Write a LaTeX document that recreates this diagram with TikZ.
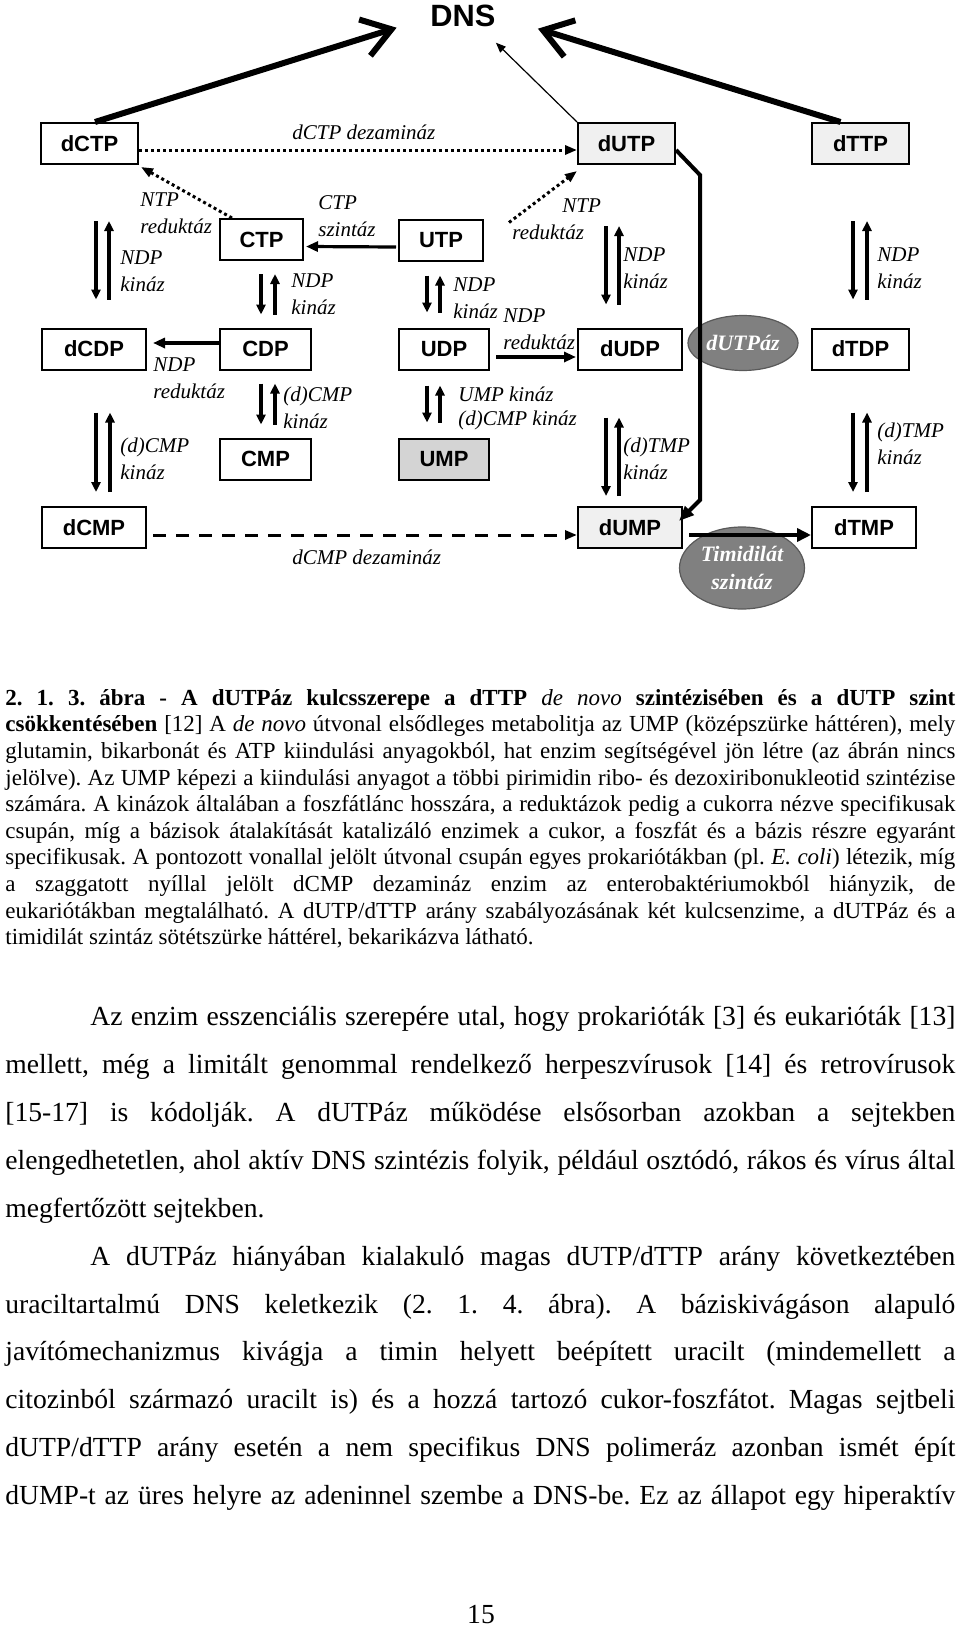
\documentclass[tikz,border=0pt]{standalone}
\usepackage{fontspec}
\setmainfont{Liberation Serif}
\newfontfamily\sansfam{Liberation Sans}
\usetikzlibrary{arrows.meta,shapes.geometric}
\frenchspacing

\tikzset{
  nbox/.style={draw, line width=1pt, minimum height=20.5pt, inner sep=0pt,
    font=\sansfam\bfseries\fontsize{11}{13}\selectfont},
  lbl/.style={anchor=north west, inner sep=0pt, align=left,
    font=\itshape\fontsize{10.5}{13.5}\selectfont},
  enz/.style={ellipse, draw=black!65, line width=0.6pt, fill=black!50, text=white,
    inner sep=0pt, align=center, font=\bfseries\itshape\fontsize{11}{14}\selectfont},
  kin/.style={line width=1.6pt, -{Triangle[length=5pt,width=4.5pt]}},
  flow/.style={line width=1.6pt, -{Triangle[length=6pt,width=5pt]}},
  dots/.style={line width=1.5pt, dash pattern=on 1.5pt off 1.5pt, -{Triangle[length=6pt,width=4.5pt]}},
  dsh/.style={line width=1.5pt, dash pattern=on 6.5pt off 5pt, -{Triangle[length=6pt,width=4.5pt]}},
  big/.style={line width=3pt, -{Straight Barb[length=14pt,width=19pt]}},
  txt/.style={anchor=north west, inner sep=0pt, align=justify, text width=475pt},
}

\begin{document}
\begin{tikzpicture}[x=0.5pt, y=-0.5pt]
    \useasboundingbox (0,0) rectangle (960,1627);

    \node[inner sep=0pt, anchor=base, font=\sansfam\bfseries\fontsize{15.4}{18}\selectfont] (DNS) at (463,27) {DNS};

    \node[nbox, minimum width=48.5pt] (dCTP) at (89.5,143.5) {dCTP};
    \node[nbox, minimum width=48.5pt, fill=black!6] (dUTP) at (626.5,143.5) {dUTP};
    \node[nbox, minimum width=48.5pt, fill=black!6] (dTTP) at (860.5,143.5) {dTTP};
    \node[nbox, minimum width=41.5pt] (CTP) at (261.5,239.5) {CTP};
    \node[nbox, minimum width=42pt] (UTP) at (441,240) {UTP};
    \node[nbox, minimum width=52pt] (dCDP) at (94,349) {dCDP};
    \node[nbox, minimum width=45.5pt] (CDP) at (265.5,349) {CDP};
    \node[nbox, minimum width=45pt] (UDP) at (444,349) {UDP};
    \node[nbox, minimum width=52pt] (dUDP) at (630,349) {dUDP};
    \node[nbox, minimum width=48.5pt] (dTDP) at (860.5,349) {dTDP};
    \node[nbox, minimum width=45.5pt] (CMP) at (265.5,459) {CMP};
    \node[nbox, minimum width=45pt, fill=black!17] (UMP) at (444,459) {UMP};
    \node[nbox, minimum width=52pt] (dCMP) at (94,527.5) {dCMP};
    \node[nbox, minimum width=52pt, fill=black!6] (dUMP) at (630,527.5) {dUMP};
    \node[nbox, minimum width=52pt] (dTMP) at (864,527.5) {dTMP};

    \node[enz, minimum width=55pt, minimum height=27.5pt] (dUTPaz) at (743,343) {dUTPáz};
    \node[enz, minimum width=62.5pt, minimum height=41pt] (TS) at (742,568) {Timidilát\\szintáz};

    \draw[big] ([xshift=2.75pt]dCTP.north) -- ([xshift=-16.75pt]DNS.south west);
    \draw[big] ([xshift=-10pt]dTTP.north) -- ([xshift=21pt,yshift=-0.5pt]DNS.south east);
    \draw[line width=0.6pt, -{Triangle[length=5pt,width=4pt]}] (dUTP.north west) -- ([yshift=-7.5pt]DNS.south east);

    \draw[dots] ([yshift=-3.25pt]dCTP.east) -- ([yshift=-3.25pt]dUTP.west);
    \draw[dots] ([xshift=6.5pt]CTP.north west) -- ([xshift=1pt,yshift=-1pt]dCTP.south east);
    \draw[dots] ([xshift=12.5pt,yshift=-2pt]UTP.north east) -- ([yshift=-3pt]dUTP.south west);
    \draw[dsh] ([xshift=3pt,yshift=-3.75pt]dCMP.east) -- ([yshift=-3.75pt]dUMP.west);

    \draw[flow] ([xshift=-1pt,yshift=-3.5pt]UTP.west) -- ([xshift=1pt,yshift=-3.5pt]CTP.east);
    \draw[flow] ([yshift=3pt]CDP.west) -- ([xshift=3pt,yshift=3pt]dCDP.east);
    \draw[flow] ([xshift=3pt,yshift=-4pt]UDP.east) -- ([xshift=-0.5pt,yshift=-4pt]dUDP.west);
    \draw[line width=2.4pt, -{Triangle[length=7pt,width=6.5pt]}] ([xshift=3pt,yshift=-3.75pt]dUMP.east) -- ([yshift=-3.75pt]dTMP.west);
    \draw[line width=2pt, -{Triangle[length=7.5pt,width=6pt]}] ([yshift=-3.25pt]dUTP.east) -- (700,175) -- (700,500) -- ([xshift=-2pt,yshift=-7.5pt]dUMP.north east);

    \foreach \hi/\lo/\xd/\xu/\gt/\gb in {dCTP/dCDP/96/109/28/14, CTP/CDP/261/275/6.5/6.5,
        UTP/UDP/427/440/7/7.5, dUTP/dUDP/606/619/30.5/11.5, dTTP/dTDP/853/867/28/14,
        CDP/CMP/261/275/6.5/6.5, UDP/UMP/427/440/7.5/7.5, dUDP/dUMP/606/619/23.5/5,
        dCDP/dCMP/96/110/21/7, dTDP/dTMP/853/867/21/7}
    {
        \draw[kin, shorten <=\gt pt, shorten >=\gb pt] (\xd,0 |- \hi.south) -- (\xd,0 |- \lo.north);
        \draw[kin, shorten <=\gb pt, shorten >=\gt pt] (\xu,0 |- \lo.north) -- (\xu,0 |- \hi.south);
    }

    \node[lbl] (l1) at (292,125) {dCTP dezamináz};
    \node[lbl] (l2) at (140,192) {NTP\\reduktáz};
    \node[lbl] (l3) at (318,195) {CTP\\szintáz};
    \node[lbl] (l4) at (512,198) {\hspace*{25pt}NTP\\reduktáz};
    \node[lbl] (l5) at (120,250) {NDP\\kináz};
    \node[lbl] (l6) at (623,247) {NDP\\kináz};
    \node[lbl] (l7) at (877,247) {NDP\\kináz};
    \node[lbl] (l8) at (291,273) {NDP\\kináz};
    \node[lbl] (l9) at (453,277) {NDP\\kináz};
    \node[lbl] (l10) at (503,308) {NDP\\reduktáz};
    \node[lbl] (l11) at (153,357) {NDP\\reduktáz};
    \node[lbl] (l12) at (283,387) {(d)CMP\\kináz};
    \node[lbl, font=\itshape\fontsize{10.5}{12}\selectfont] (l13) at (458,387) {UMP kináz\\(d)CMP kináz};
    \node[lbl] (l14) at (120,438) {(d)CMP\\kináz};
    \node[lbl] (l15) at (623,438) {(d)TMP\\kináz};
    \node[lbl] (l16) at (877,423) {(d)TMP\\kináz};
    \node[lbl] (l17) at (292,550) {dCMP dezamináz};

    \node[txt, font=\fontsize{11.5}{13.3}\selectfont] (caption) at (5,689)
    {\textbf{2. 1. 3. ábra - A dUTPáz kulcsszerepe a dTTP} \textit{de novo} \textbf{szintézisében és a dUTP szint}\linebreak{}
    \textbf{csökkentésében} [12] A \textit{de novo} útvonal elsődleges metabolitja az UMP (középszürke háttéren), mely\linebreak{}
    glutamin, bikarbonát és ATP kiindulási anyagokból, hat enzim segítségével jön létre (az ábrán nincs\linebreak{}
    jelölve). Az UMP képezi a kiindulási anyagot a többi pirimidin ribo- és dezoxiribonukleotid szintézise\linebreak{}
    számára. A kinázok általában a foszfátlánc hosszára, a reduktázok pedig a cukorra nézve specifikusak\linebreak{}
    csupán, míg a bázisok átalakítását katalizáló enzimek a cukor, a foszfát és a bázis részre egyaránt\linebreak{}
    specifikusak. A pontozott vonallal jelölt útvonal csupán egyes prokariótákban (pl. \textit{E. coli}) létezik, míg\linebreak{}
    a szaggatott nyíllal jelölt dCMP dezamináz enzim az enterobaktériumokból hiányzik, de\linebreak{}
    eukariótákban megtalálható. A dUTP/dTTP arány szabályozásának két kulcsenzime, a dUTPáz és a\linebreak{}
    timidilát szintáz sötétszürke háttérel, bekarikázva látható.};

    \node[txt, font=\fontsize{13.8}{23.95}\selectfont] (body) at (5,1006)
    {\parskip=0pt
    \hspace*{42.5pt}Az enzim esszenciális szerepére utal, hogy prokarióták [3] és eukarióták [13]\linebreak{}
    mellett, még a limitált genommal rendelkező herpeszvírusok [14] és retrovírusok\linebreak{}
    [15-17] is kódolják. A dUTPáz működése elsősorban azokban a sejtekben\linebreak{}
    elengedhetetlen, ahol aktív DNS szintézis folyik, például osztódó, rákos és vírus által\linebreak{}
    megfertőzött sejtekben.\par
    \parfillskip=0pt
    \hspace*{42.5pt}A dUTPáz hiányában kialakuló magas dUTP/dTTP arány következtében\linebreak{}
    uraciltartalmú DNS keletkezik (2. 1. 4. ábra). A báziskivágáson alapuló\linebreak{}
    javítómechanizmus kivágja a timin helyett beépített uracilt (mindemellett a\linebreak{}
    citozinból származó uracilt is) és a hozzá tartozó cukor-foszfátot. Magas sejtbeli\linebreak{}
    dUTP/dTTP arány esetén a nem specifikus DNS polimeráz azonban ismét épít\linebreak{}
    dUMP-t az üres helyre az adeninnel szembe a DNS-be. Ez az állapot egy hiperaktív\par};

    \node[inner sep=0pt, anchor=base, font=\fontsize{13.8}{16}\selectfont] (pagenum) at (481,1623) {15};
\end{tikzpicture}
\end{document}
